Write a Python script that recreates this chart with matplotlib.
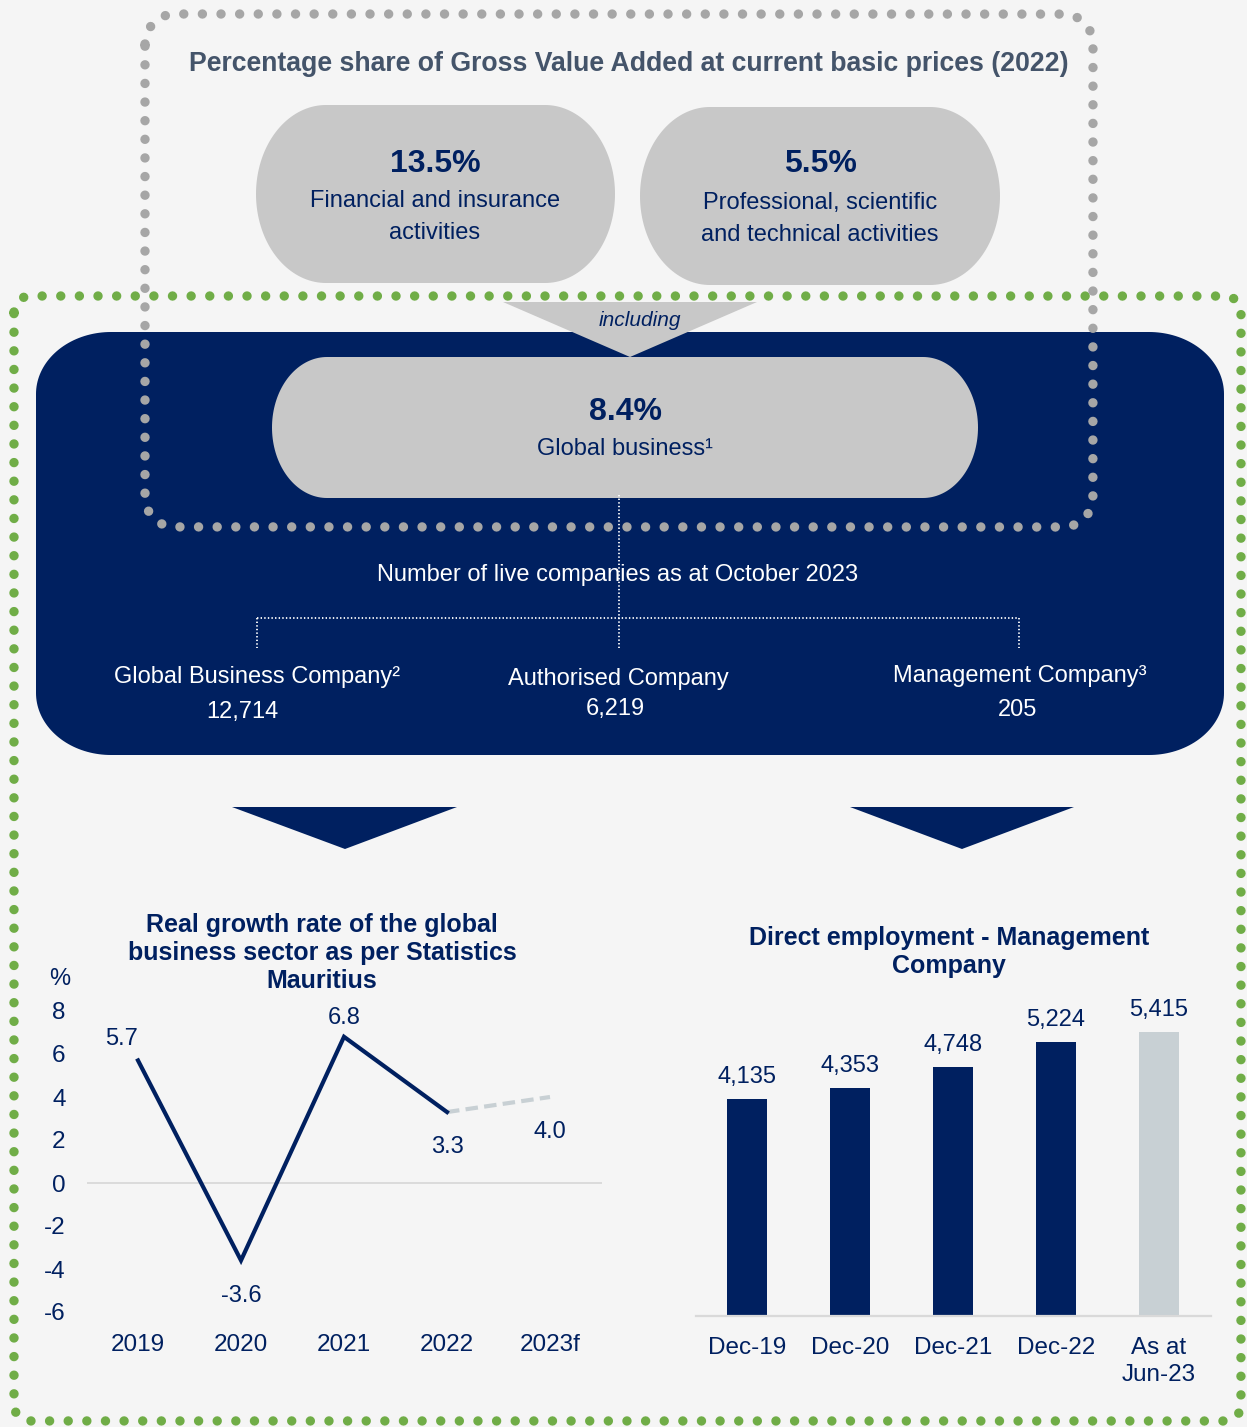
import numpy as np
import matplotlib
matplotlib.use("Agg")
import matplotlib.pyplot as plt
from matplotlib.patches import Polygon

plt.rcParams["font.family"] = ["Liberation Sans", "DejaVu Sans"]
plt.rcParams["lines.scale_dashes"] = False
plt.rcParams["axes.unicode_minus"] = False

# ---- data -------------------------------------------------------------
gva_shares = ["13.5%", "5.5%"]
gva_sectors = ["Financial and insurance\nactivities",
               "Professional, scientific\nand technical activities"]
global_share = "8.4%"
global_label = "Global business\u00b9"

company_types = ["Global Business Company\u00b2", "Authorised Company",
                 "Management Company\u00b3"]
company_counts = [12714, 6219, 205]

years = ["2019", "2020", "2021", "2022", "2023f"]
growth = [5.7, -3.6, 6.8, 3.3, 4.0]
growth_ticks = [-6, -4, -2, 0, 2, 4, 6, 8]

periods = ["Dec-19", "Dec-20", "Dec-21", "Dec-22", "As at\nJun-23"]
employment = [4135, 4353, 4748, 5224, 5415]

# ---- style ------------------------------------------------------------
W, H = 1247, 1427
BG = "#F5F5F5"
NAVY = "#002060"
SLATE = "#44546A"
PILL = "#C8C8C8"
DOTGRAY = "#A6A6A6"
GREEN = "#70AD47"
LIGHT = "#C8D0D4"
AXISGRAY = "#D9D9D9"

fig = plt.figure(figsize=(W / 100, H / 100), dpi=100, facecolor=BG)
deco = fig.add_axes([0, 0, 1, 1])
deco.set_xlim(0, W)
deco.set_ylim(H, 0)
deco.axis("off")
deco.set_facecolor(BG)


def rounded_rect(x0, y0, x1, y1, rx, ry, n=40):
    """Closed outline of a rectangle with elliptical corners (y grows downward)."""
    def arc(cx, cy, a0, a1):
        a = np.linspace(a0, a1, n)
        return np.column_stack([cx + rx * np.cos(a), cy + ry * np.sin(a)])
    pts = np.vstack([
        arc(x0 + rx, y0 + ry, np.pi, 1.5 * np.pi),
        arc(x1 - rx, y0 + ry, 1.5 * np.pi, 2 * np.pi),
        arc(x1 - rx, y1 - ry, 0, 0.5 * np.pi),
        arc(x0 + rx, y1 - ry, 0.5 * np.pi, np.pi),
    ])
    return pts


def filled(pts, color, z):
    deco.add_patch(Polygon(pts, closed=True, facecolor=color, edgecolor="none", zorder=z))


def dotted(pts, color, lw, gap, z):
    p = np.vstack([pts, pts[:1]])
    deco.plot(p[:, 0], p[:, 1], color=color, lw=lw, linestyle=(0, (0.01, gap)),
              dash_capstyle="round", zorder=z)


def label(x, y, s, **kw):
    kw.setdefault("ha", "center")
    kw.setdefault("va", "center")
    kw.setdefault("zorder", 9)
    deco.text(x, y + 2, s, **kw)


# outer green dotted frame
dotted(rounded_rect(14, 296, 1241, 1421, 16, 16), GREEN, 6.8, 13.4, 2)

# top pills
filled(rounded_rect(256, 105, 615, 283, 70, 89), PILL, 3)
filled(rounded_rect(640, 107, 1000, 285, 70, 89), PILL, 3)

# navy panel
filled(rounded_rect(36, 332, 1224, 755, 75, 62), NAVY, 4)

# "including" arrow
deco.add_patch(Polygon([[503, 302], [757, 302], [630, 357]], closed=True,
                       facecolor=PILL, edgecolor="none", zorder=5))
label(640, 319, "including", fontsize=15, style="italic", color=NAVY, zorder=6)

# global business pill
filled(rounded_rect(272, 357, 978, 498, 55, 70.5), PILL, 6)

# grey dotted frame around GVA section
dotted(rounded_rect(145, 14, 1093, 527, 30, 30), DOTGRAY, 6.8, 13.4, 7)

# white dotted tree
tree_kw = dict(color="white", lw=1.3, linestyle=(0, (1.0, 1.6)), zorder=8)
deco.plot([619, 619], [495, 648], **tree_kw)
deco.plot([257, 1019], [618, 618], **tree_kw)
deco.plot([257, 257], [618, 648], **tree_kw)
deco.plot([1019, 1019], [618, 648], **tree_kw)

# texts of the top section
label(629, 62, "Percentage share of Gross Value Added at current basic prices (2022)",
      fontsize=19.2, fontweight="bold", color=SLATE)
for cx, share, sector, y_line in zip([435, 820], gva_shares, gva_sectors, [215, 217]):
    label(cx, 162, share, fontsize=23, fontweight="bold", color=NAVY)
    label(cx, y_line, sector, fontsize=17, color=NAVY, linespacing=1.55)

label(625, 410, global_share, fontsize=23, fontweight="bold", color=NAVY)
label(625, 447, global_label, fontsize=17, color=NAVY)

label(618, 573, "Number of live companies as at October 2023", fontsize=17, color="white")
for cx, ny, vx, vy, name, count in zip([257, 618, 1020], [675, 677, 674],
                                       [242, 615, 1018], [710, 707, 708],
                                       company_types, company_counts):
    label(cx, ny, name, fontsize=17, color="white")
    label(vx, vy, f"{count:,}", fontsize=17, color="white")

# navy pointers towards the charts
for xl, xr, xa in [(232, 457, 345), (850, 1074, 962)]:
    deco.add_patch(Polygon([[xl, 807], [xr, 807], [xa, 849]], closed=True,
                           facecolor=NAVY, edgecolor="none", zorder=5))

# chart titles
label(322, 951, "Real growth rate of the global\nbusiness sector as per Statistics\nMauritius",
      fontsize=18, fontweight="bold", color=NAVY, linespacing=1.19)
label(949, 950, "Direct employment - Management\nCompany",
      fontsize=18, fontweight="bold", color=NAVY, linespacing=1.19)
label(60, 977, "%", fontsize=17, color=NAVY)


def px_axes(left, top, right, bottom):
    ax = fig.add_axes([left / W, 1 - bottom / H, (right - left) / W, (bottom - top) / H])
    ax.set_facecolor("none")
    for s in ax.spines.values():
        s.set_visible(False)
    return ax


# ---- line chart: real growth rate -------------------------------------
ax1 = px_axes(86.5, 1000.25, 601.5, 1322.75)
ax1.set_xlim(-0.5, 4.5)
ax1.set_ylim(-6.5, 8.5)
x = np.arange(len(years))
ax1.axhline(0, color=AXISGRAY, lw=1.3, zorder=1)
ax1.plot(x[:4], growth[:4], color=NAVY, lw=3, solid_joinstyle="miter", zorder=3)
ax1.plot(x[3:], growth[3:], color=LIGHT, lw=3, linestyle=(0, (9, 4.5)), zorder=2)
offsets = [(-16, 21), (0, -36), (0, 19), (0, -35), (0, -35)]
for xi, v, (dx, dy) in zip(x, growth, offsets):
    ax1.annotate(f"{v:.1f}", (xi, v), xytext=(dx, dy), textcoords="offset pixels",
                 ha="center", va="center", fontsize=17, color=NAVY)
ax1.set_xticks(x)
ax1.set_xticklabels(years)
ax1.set_yticks(growth_ticks)
ax1.set_yticklabels([str(t) for t in growth_ticks])
ax1.tick_params(axis="both", length=0, labelsize=17.5, labelcolor=NAVY)
ax1.tick_params(axis="x", pad=8)
ax1.tick_params(axis="y", pad=15)

# ---- bar chart: direct employment -------------------------------------
ax2 = px_axes(695.5, 1001.3, 1210.5, 1316)
ax2.set_xlim(-0.5, 4.5)
ax2.set_ylim(0, 6000)
xb = np.arange(len(periods))
bar_colors = [NAVY] * 4 + [LIGHT]
ax2.bar(xb, employment, width=0.39, color=bar_colors, zorder=2)
for xi, v in zip(xb, employment):
    ax2.annotate(f"{v:,}", (xi, v), xytext=(0, 22), textcoords="offset pixels",
                 ha="center", va="center", fontsize=17, color=NAVY)
ax2.spines["bottom"].set_visible(True)
ax2.spines["bottom"].set_color(AXISGRAY)
ax2.spines["bottom"].set_linewidth(1.6)
ax2.set_xticks(xb)
ax2.set_xticklabels(periods, linespacing=1.28)
ax2.set_yticks([])
ax2.tick_params(axis="x", length=0, labelsize=17.5, labelcolor=NAVY, pad=15)

fig.savefig("out.png", dpi=100, facecolor=BG)
